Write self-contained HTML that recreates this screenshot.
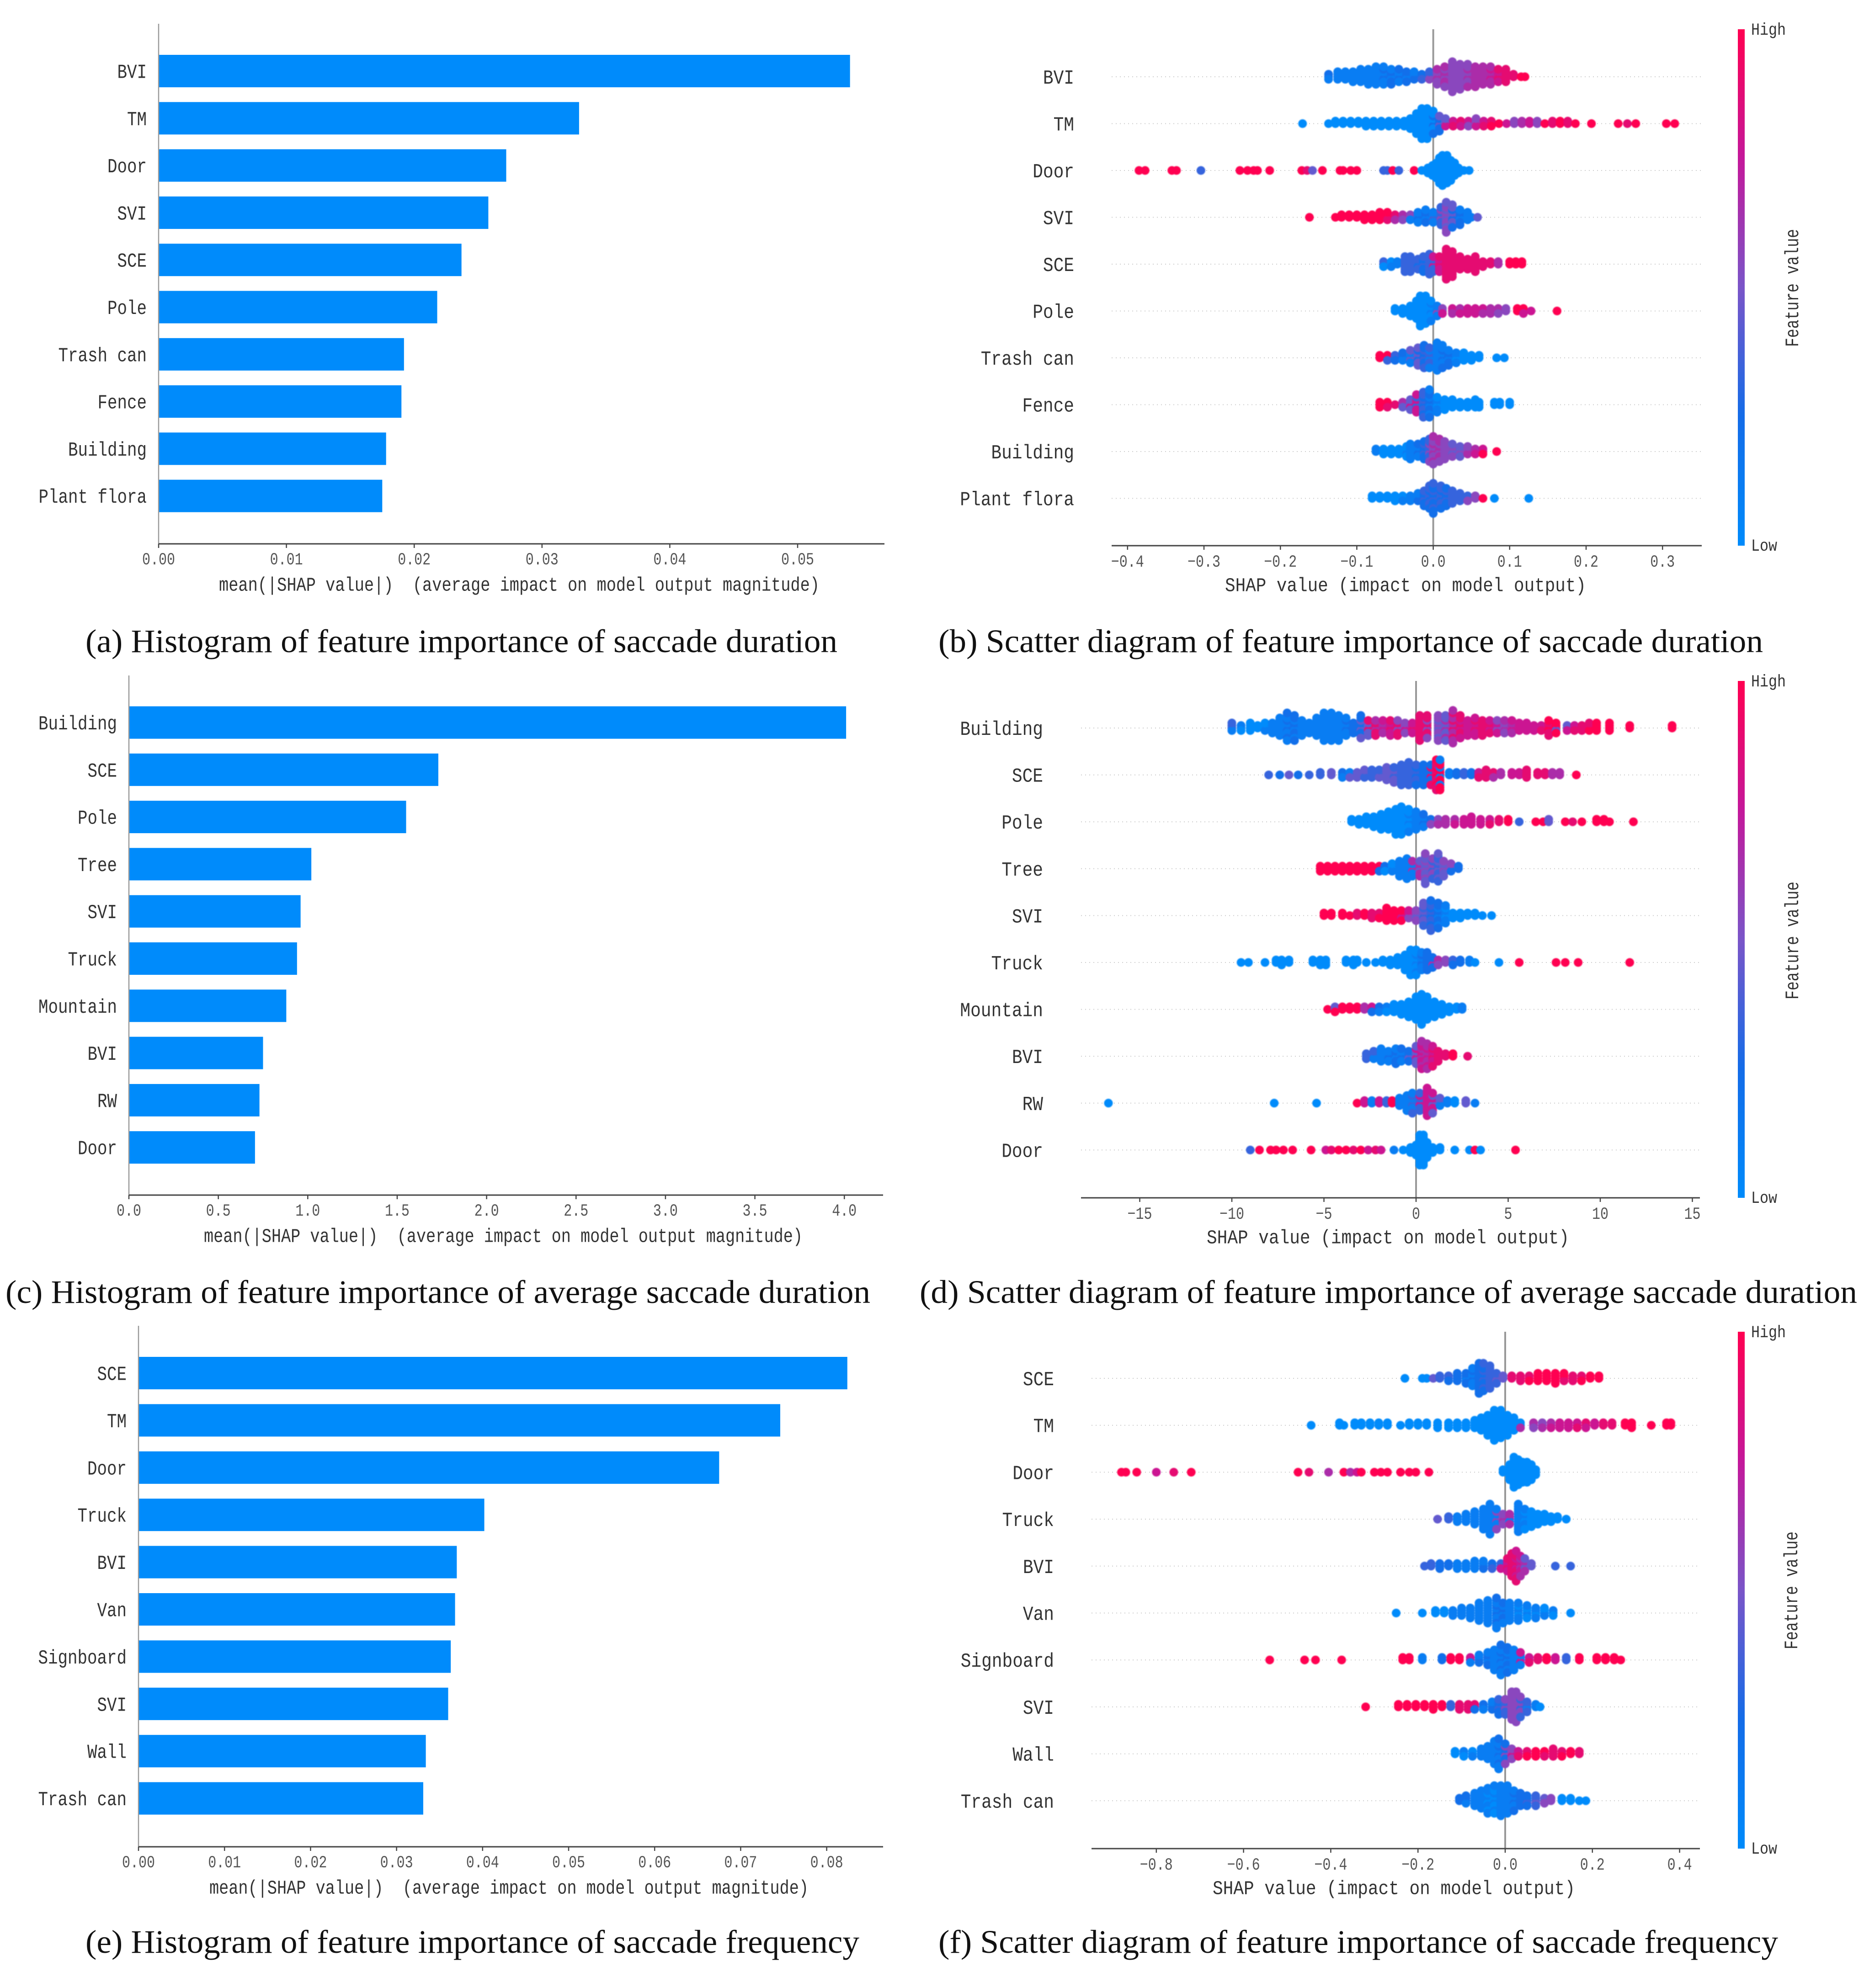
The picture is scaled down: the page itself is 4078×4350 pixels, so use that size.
<!DOCTYPE html>
<html lang="en">
<head>
<meta charset="utf-8">
<title>SHAP feature importance charts</title>
<style>
html,body{margin:0;padding:0;background:#fff;}
svg{display:block;}
text{white-space:pre;}
.cap{font-family:"Liberation Serif",serif;font-size:72px;fill:#111;}
</style>
</head>
<body>
<svg id="figure" xmlns="http://www.w3.org/2000/svg" width="4078" height="4350" viewBox="0 0 4078 4350">
<rect width="4078" height="4350" fill="#fff"/>
<text class="cap" x="187" y="1427" textLength="1645" lengthAdjust="spacingAndGlyphs">(a) Histogram of feature importance of saccade duration</text>
<text class="cap" x="2053" y="1427" textLength="1804" lengthAdjust="spacingAndGlyphs">(b) Scatter diagram of feature importance of saccade duration</text>
<text class="cap" x="12" y="2851" textLength="1892" lengthAdjust="spacingAndGlyphs">(c) Histogram of feature importance of average saccade duration</text>
<text class="cap" x="2012" y="2851" textLength="2051" lengthAdjust="spacingAndGlyphs">(d) Scatter diagram of feature importance of average saccade duration</text>
<text class="cap" x="187" y="4273" textLength="1693" lengthAdjust="spacingAndGlyphs">(e) Histogram of feature importance of saccade frequency</text>
<text class="cap" x="2053" y="4273" textLength="1837" lengthAdjust="spacingAndGlyphs">(f) Scatter diagram of feature importance of saccade frequency</text>
</svg>
<script>
// ---------- bar chart data ----------
const barACategories = ["BVI","TM","Door","SVI","SCE","Pole","Trash can","Fence","Building","Plant flora"];
const barAValues = [0.0541,0.0329,0.0272,0.0258,0.0237,0.0218,0.0192,0.0190,0.0178,0.0175];
const barATicks = [0,0.01,0.02,0.03,0.04,0.05];
const barATickLabels = ["0.00","0.01","0.02","0.03","0.04","0.05"];

const barCCategories = ["Building","SCE","Pole","Tree","SVI","Truck","Mountain","BVI","RW","Door"];
const barCValues = [4.01,1.73,1.55,1.02,0.96,0.94,0.88,0.75,0.73,0.705];
const barCTicks = [0,0.5,1,1.5,2,2.5,3,3.5,4];
const barCTickLabels = ["0.0","0.5","1.0","1.5","2.0","2.5","3.0","3.5","4.0"];

const barECategories = ["SCE","TM","Door","Truck","BVI","Van","Signboard","SVI","Wall","Trash can"];
const barEValues = [0.0824,0.0746,0.0675,0.0402,0.0370,0.0368,0.0363,0.0360,0.0334,0.0331];
const barETicks = [0,0.01,0.02,0.03,0.04,0.05,0.06,0.07,0.08];
const barETickLabels = ["0.00","0.01","0.02","0.03","0.04","0.05","0.06","0.07","0.08"];

// ---------- beeswarm data: each entry is [SHAP value, number of samples stacked, feature value decile 0-9] ----------
const swarmBCategories = ["BVI","TM","Door","SVI","SCE","Pole","Trash can","Fence","Building","Plant flora"];
const swarmBTicks = [-0.4,-0.3,-0.2,-0.1,0,0.1,0.2,0.3];
const swarmBTickLabels = ["\u22120.4","\u22120.3","\u22120.2","\u22120.1","0.0","0.1","0.2","0.3"];
const swarmBBVI = [[-.137,3,2],[-.125,4,1],[-.115,4,1],[-.105,5,1],[-.095,6,1],[-.085,7,1],[-.075,8,1],[-.065,8,1],[-.055,7,2],[-.045,6,1],[-.035,5,2],[-.025,4,1],[-.015,3,2],[-.005,4,3],[.005,7,5],[.015,9,6],[.025,13,5],[.035,11,5],[.045,10,5],[.055,9,6],[.065,8,6],[.075,8,6],[.085,6,7],[.095,6,8],[.105,2,8],[.115,1,9],[.12,1,9]];
const swarmBTM = [[-.171,1,0],[-.137,1,0],[-.128,2,0],[-.118,2,0],[-.108,2,0],[-.098,2,0],[-.088,3,0],[-.078,3,0],[-.068,3,0],[-.058,3,0],[-.048,3,0],[-.038,3,0],[-.03,5,0],[-.022,9,0],[-.015,13,0],[-.008,13,0],[0,10,0],[.008,7,2],[.016,4,4],[.026,3,7],[.036,3,8],[.046,3,7],[.056,4,5],[.066,3,7],[.076,3,8],[.086,1,9],[.096,1,7],[.106,2,5],[.116,2,6],[.126,2,7],[.136,2,5],[.146,1,9],[.156,2,8],[.166,2,9],[.176,2,8],[.186,1,9],[.207,1,9],[.242,1,9],[.254,1,8],[.265,1,9],[.305,1,9],[.316,1,9]];
const swarmBDoor = [[-.385,1,9],[-.377,1,9],[-.342,1,9],[-.336,1,9],[-.304,1,3],[-.253,1,9],[-.243,1,9],[-.235,1,9],[-.23,1,9],[-.214,1,9],[-.172,1,9],[-.165,1,8],[-.158,1,4],[-.145,1,9],[-.122,1,9],[-.118,1,9],[-.108,1,9],[-.1,1,9],[-.065,1,3],[-.06,1,3],[-.053,1,9],[-.045,1,3],[-.025,1,9],[-.015,1,0],[-.007,3,0],[-.001,5,0],[.004,7,0],[.008,11,0],[.012,13,0],[.018,12,0],[.023,9,0],[.028,6,0],[.033,3,0],[.04,1,0],[.047,1,0]];
const swarmBSVI = [[-.162,1,9],[-.128,1,9],[-.12,2,9],[-.11,2,9],[-.1,2,9],[-.09,3,9],[-.08,3,9],[-.07,4,9],[-.06,4,9],[-.05,3,8],[-.04,3,6],[-.03,3,5],[-.02,5,1],[-.01,6,2],[0,5,1],[.01,8,3],[.017,13,5],[.025,10,4],[.035,7,2],[.045,4,1],[.05,1,1],[.058,1,4]];
const swarmBSCE = [[-.065,3,3],[-.055,3,0],[-.047,2,1],[-.037,7,3],[-.03,7,3],[-.02,5,3],[-.013,7,2],[-.005,9,3],[0,7,3],[.008,7,7],[.017,13,8],[.025,11,8],[.035,6,8],[.045,5,8],[.055,7,8],[.065,3,8],[.075,2,8],[.085,2,6],[.1,2,9],[.108,2,9],[.116,2,9]];
const swarmBPole = [[-.05,2,0],[-.04,3,0],[-.03,5,0],[-.022,8,0],[-.017,13,0],[-.01,12,0],[-.003,9,0],[.005,5,1],[.012,3,5],[.025,3,7],[.035,3,6],[.045,3,7],[.055,3,7],[.065,3,7],[.075,3,6],[.085,3,6],[.095,2,5],[.11,2,9],[.118,3,9],[.128,1,7],[.162,1,9]];
const swarmBTrash = [[-.07,2,9],[-.06,3,9],[-.05,3,3],[-.04,4,2],[-.03,6,1],[-.02,8,4],[-.012,10,2],[-.005,9,3],[.005,12,1],[.012,10,1],[.02,7,2],[.03,5,1],[.04,4,0],[.05,3,0],[.06,2,0],[.083,1,0],[.093,1,0]];
const swarmBFence = [[-.07,3,9],[-.06,3,9],[-.05,1,8],[-.04,3,6],[-.03,5,4],[-.022,8,7],[-.013,11,3],[-.005,12,2],[.005,7,1],[.015,5,0],[.025,4,0],[.035,3,0],[.045,3,0],[.055,4,0],[.06,3,0],[.08,2,0],[.087,2,0],[.1,2,0]];
const swarmBBuilding = [[-.075,2,1],[-.065,3,0],[-.055,3,0],[-.045,3,0],[-.035,5,0],[-.03,7,1],[-.02,6,1],[-.012,8,2],[-.005,10,3],[0,12,5],[.008,10,6],[.015,8,5],[.025,6,5],[.035,5,4],[.045,4,5],[.055,3,6],[.065,3,7],[.083,1,9]];
const swarmBPlant = [[-.08,2,0],[-.07,2,0],[-.06,2,0],[-.05,3,0],[-.04,3,0],[-.03,3,1],[-.02,4,1],[-.012,7,2],[-.005,10,3],[0,13,2],[.01,10,3],[.017,8,2],[.025,6,3],[.035,4,3],[.045,3,3],[.055,2,5],[.065,1,9],[.08,1,0],[.125,1,0]];
const swarmBRows = [swarmBBVI,swarmBTM,swarmBDoor,swarmBSVI,swarmBSCE,swarmBPole,swarmBTrash,swarmBFence,swarmBBuilding,swarmBPlant];

const swarmDCategories = ["Building","SCE","Pole","Tree","SVI","Truck","Mountain","BVI","RW","Door"];
const swarmDTicks = [-15,-10,-5,0,5,10,15];
const swarmDTickLabels = ["\u221215","\u221210","\u22125","0","5","10","15"];
const swarmDBuilding = [[-10,4,3],[-9.5,3,1],[-9,4,0],[-8.6,2,0],[-8.2,4,0],[-7.8,5,1],[-7.4,8,1],[-7,12,1],[-6.6,11,2],[-6.2,7,1],[-5.8,5,1],[-5.4,8,1],[-5,12,1],[-4.6,12,1],[-4.2,11,1],[-3.8,8,1],[-3.4,5,2],[-3,10,2],[-2.6,7,4],[-2.2,7,8],[-1.8,6,6],[-1.4,7,7],[-1,7,8],[-.6,5,5],[-.2,5,7],[.2,11,8],[.6,10,8],[1.2,11,5],[1.6,11,4],[2,14,6],[2.4,10,8],[2.8,7,7],[3.2,8,7],[3.6,7,8],[4,6,8],[4.4,6,7],[4.8,6,5],[5.2,6,6],[5.6,4,7],[6,4,7],[6.4,3,7],[6.8,3,7],[7.2,7,8],[7.6,5,9],[8.2,3,4],[8.6,3,7],[9,3,8],[9.4,4,8],[9.8,4,9],[10.5,4,9],[11.6,2,9],[13.9,2,9]];
const swarmDSCE = [[-8,1,3],[-7.4,1,2],[-6.9,1,4],[-6.4,1,2],[-5.8,1,3],[-5.2,2,3],[-4.6,2,4],[-4,3,2],[-3.6,3,1],[-3.2,3,4],[-2.8,4,4],[-2.4,4,3],[-2,4,3],[-1.6,6,4],[-1.2,7,4],[-.8,9,3],[-.4,10,3],[0,9,3],[.4,9,2],[.8,9,2],[1.1,13,8],[1.3,13,9],[1.8,2,1],[2.2,2,2],[2.6,2,3],[3,2,2],[3.4,3,7],[3.8,4,8],[4.2,3,8],[4.6,2,6],[5.2,2,7],[5.6,2,7],[6,4,8],[6.6,2,8],[7,2,8],[7.4,2,6],[7.8,2,6],[8.7,1,9]];
const swarmDPole = [[-3.5,2,0],[-3.1,3,0],[-2.7,4,0],[-2.3,5,0],[-1.9,7,0],[-1.5,8,0],[-1.1,11,0],[-.8,12,0],[-.4,10,0],[0,8,1],[.4,6,1],[.8,3,2],[1.2,3,5],[1.6,3,6],[2.1,3,6],[2.6,3,7],[3,4,7],[3.5,3,7],[4,3,7],[4.5,2,8],[5,2,9],[5.6,1,3],[6.5,1,9],[6.9,1,9],[7.2,2,4],[8.1,1,9],[8.5,1,8],[9,1,9],[9.8,2,9],[10.2,2,9],[10.5,1,9],[11.8,1,9]];
const swarmDTree = [[-5.2,3,9],[-4.8,3,9],[-4.4,3,9],[-4,3,9],[-3.6,3,9],[-3.2,3,9],[-2.8,3,9],[-2.4,3,9],[-2,3,9],[-1.7,3,2],[-1.3,4,0],[-.9,7,1],[-.5,9,1],[-.2,7,1],[.2,7,6],[.5,13,4],[.9,9,5],[1.2,12,3],[1.5,7,4],[1.9,4,5],[2.3,2,2]];
const swarmDSVI = [[-5,2,9],[-4.6,2,9],[-4,2,9],[-3.6,1,9],[-3.2,2,8],[-2.8,2,9],[-2.4,3,8],[-2,3,8],[-1.6,6,9],[-1.2,5,9],[-.8,5,9],[-.4,4,7],[0,5,5],[.4,10,4],[.8,13,3],[1.2,11,2],[1.6,8,1],[2,3,0],[2.4,3,0],[2.8,2,0],[3.2,2,0],[3.6,1,0],[4.1,1,0]];
const swarmDTruck = [[-9.5,1,0],[-9.1,1,0],[-8.2,1,0],[-7.6,2,0],[-7.3,3,0],[-6.9,2,0],[-5.6,2,0],[-5.2,3,0],[-4.9,3,0],[-3.8,2,0],[-3.4,3,0],[-3.2,2,0],[-2.7,1,0],[-2.2,1,0],[-1.8,2,0],[-1.4,3,0],[-1,4,0],[-.6,7,0],[-.3,11,0],[0,11,0],[.3,8,1],[.6,8,2],[.9,5,2],[1.2,3,6],[1.6,2,5],[2,3,3],[2.4,2,2],[2.9,2,1],[3.2,1,0],[4.5,1,0],[5.6,1,9],[7.6,1,9],[8.1,1,9],[8.8,1,9],[11.6,1,9]];
const swarmDMountain = [[-4.8,1,9],[-4.4,3,4],[-4,2,9],[-3.6,2,9],[-3.2,2,9],[-2.8,2,6],[-2.4,3,7],[-2,3,2],[-1.6,3,1],[-1.2,4,0],[-.8,5,0],[-.4,7,0],[0,10,0],[.3,13,0],[.6,10,0],[1,7,0],[1.4,5,0],[1.8,3,0],[2.2,2,0],[2.5,2,1]];
const swarmDBVI = [[-2.7,3,3],[-2.3,4,3],[-1.9,6,1],[-1.5,5,1],[-1.1,7,2],[-.8,6,1],[-.4,5,2],[0,8,4],[.3,12,7],[.6,11,6],[.9,9,7],[1.2,5,8],[1.6,2,8],[2,2,9],[2.8,1,8]];
const swarmDRW = [[-16.7,1,0],[-7.7,1,0],[-5.4,1,0],[-3.2,1,9],[-2.8,2,7],[-2.4,2,1],[-2,2,7],[-1.6,2,3],[-1.3,2,9],[-.9,4,1],[-.5,7,1],[-.2,9,1],[.2,8,3],[.6,12,7],[.9,9,7],[1.3,4,4],[1.7,2,1],[2.1,2,0],[2.7,2,4],[3.2,1,1]];
const swarmDDoor = [[-9,1,3],[-8.5,1,9],[-7.9,1,9],[-7.6,1,9],[-7.2,1,9],[-6.7,1,9],[-5.7,1,9],[-4.9,1,7],[-4.6,1,8],[-4.2,1,9],[-3.8,1,9],[-3.4,1,8],[-3,1,9],[-2.6,1,7],[-2.2,1,8],[-1.9,1,7],[-1.2,1,1],[-.7,1,0],[-.3,3,0],[0,5,0],[.2,13,0],[.4,13,0],[.6,7,0],[.9,3,0],[1.3,2,0],[2.1,1,0],[2.9,1,0],[3.2,1,9],[3.5,1,0],[5.4,1,9]];
const swarmDRows = [swarmDBuilding,swarmDSCE,swarmDPole,swarmDTree,swarmDSVI,swarmDTruck,swarmDMountain,swarmDBVI,swarmDRW,swarmDDoor];

const swarmFCategories = ["SCE","TM","Door","Truck","BVI","Van","Signboard","SVI","Wall","Trash can"];
const swarmFTicks = [-0.8,-0.6,-0.4,-0.2,0,0.2,0.4];
const swarmFTickLabels = ["\u22120.8","\u22120.6","\u22120.4","\u22120.2","0.0","0.2","0.4"];
const swarmFSCE = [[-.23,1,0],[-.19,1,0],[-.18,1,0],[-.165,1,4],[-.15,2,3],[-.13,3,3],[-.11,4,2],[-.09,5,2],[-.075,8,1],[-.06,13,2],[-.05,12,2],[-.035,10,3],[-.02,5,3],[-.005,2,4],[.015,2,8],[.035,3,8],[.055,3,8],[.075,4,9],[.095,4,9],[.115,5,9],[.135,4,9],[.155,3,8],[.175,3,8],[.195,2,9],[.215,2,9]];
const swarmFTM = [[-.445,1,0],[-.38,2,0],[-.37,1,0],[-.345,2,0],[-.33,2,0],[-.31,2,0],[-.29,2,0],[-.27,2,0],[-.24,1,0],[-.22,2,0],[-.2,2,0],[-.18,2,0],[-.155,3,0],[-.13,3,0],[-.11,3,0],[-.09,3,0],[-.07,4,0],[-.055,6,0],[-.04,9,0],[-.025,13,0],[-.01,12,0],[.005,9,0],[.02,6,0],[.035,3,0],[.065,3,6],[.085,3,5],[.105,3,6],[.125,3,7],[.145,3,7],[.165,3,7],[.185,3,8],[.205,2,7],[.225,2,8],[.245,2,8],[.275,2,9],[.29,3,9],[.335,1,9],[.37,2,9],[.38,2,9]];
const swarmFDoor = [[-.88,1,9],[-.87,1,9],[-.845,1,9],[-.8,1,7],[-.76,1,8],[-.72,1,9],[-.475,1,9],[-.45,1,8],[-.405,1,6],[-.37,1,9],[-.355,1,6],[-.34,1,7],[-.33,1,9],[-.3,1,9],[-.285,1,9],[-.27,1,9],[-.24,1,9],[-.22,1,9],[-.205,1,9],[-.175,1,9],[-.005,2,0],[.01,7,0],[.02,13,0],[.03,11,0],[.04,9,0],[.05,9,0],[.06,7,0],[.07,3,0]];
const swarmFTruck = [[-.155,1,4],[-.13,2,3],[-.11,3,1],[-.09,4,1],[-.07,6,1],[-.05,9,1],[-.035,13,1],[-.02,9,1],[-.005,5,5],[.01,5,6],[.03,12,1],[.045,9,1],[.06,7,0],[.075,5,0],[.09,4,0],[.105,3,0],[.12,2,0],[.14,1,0]];
const swarmFBVI = [[-.185,1,3],[-.17,2,3],[-.15,3,2],[-.13,2,2],[-.11,3,1],[-.09,3,1],[-.07,4,1],[-.05,4,1],[-.03,3,2],[-.01,3,3],[.005,6,7],[.015,10,8],[.025,13,8],[.035,9,7],[.045,6,6],[.06,2,4],[.115,1,3],[.15,1,3]];
const swarmFVan = [[-.25,1,0],[-.19,1,0],[-.16,2,0],[-.14,2,0],[-.12,3,1],[-.1,4,1],[-.08,5,1],[-.06,8,1],[-.04,10,1],[-.02,13,1],[-.005,9,2],[.01,8,1],[.03,8,1],[.05,6,0],[.07,5,1],[.09,4,0],[.11,3,1],[.15,1,0]];
const swarmFSignboard = [[-.54,1,9],[-.46,1,9],[-.435,1,9],[-.375,1,9],[-.235,2,9],[-.22,2,9],[-.19,2,1],[-.145,2,2],[-.125,2,9],[-.105,2,9],[-.08,3,7],[-.06,4,1],[-.04,6,2],[-.025,9,1],[-.01,13,1],[.005,11,2],[.02,9,1],[.035,6,1],[.055,3,7],[.075,2,8],[.095,2,9],[.115,2,7],[.14,2,3],[.17,2,9],[.21,2,9],[.23,2,9],[.25,2,9],[.265,1,9]];
const swarmFSVI = [[-.32,1,9],[-.245,2,9],[-.225,2,9],[-.205,2,9],[-.185,2,9],[-.165,3,9],[-.145,2,9],[-.125,2,3],[-.105,3,8],[-.085,3,8],[-.07,3,8],[-.05,3,2],[-.03,4,1],[-.015,7,2],[0,7,3],[.015,12,5],[.025,13,5],[.035,9,5],[.05,5,3],[.07,2,1],[.08,1,0]];
const swarmFWall = [[-.115,2,0],[-.095,3,1],[-.075,3,0],[-.055,4,1],[-.04,6,1],[-.025,10,1],[-.015,13,1],[0,9,2],[.015,5,5],[.03,3,7],[.05,3,8],[.07,3,9],[.09,3,9],[.11,4,8],[.13,3,8],[.15,2,9],[.17,2,8]];
const swarmFTrash = [[-.105,2,2],[-.09,4,2],[-.07,6,1],[-.055,8,1],[-.04,11,1],[-.025,12,0],[-.01,13,1],[.005,12,1],[.02,9,1],[.035,6,2],[.05,5,2],[.07,5,3],[.09,3,4],[.105,2,5],[.13,2,0],[.15,2,0],[.17,1,0],[.185,1,0]];
const swarmFRows = [swarmFSCE,swarmFTM,swarmFDoor,swarmFTruck,swarmFBVI,swarmFVan,swarmFSignboard,swarmFSVI,swarmFWall,swarmFTrash];

const meanAxisTitle = "mean(|SHAP value|)  (average impact on model output magnitude)";
const shapAxisTitle = "SHAP value (impact on model output)";

// ---------- drawing ----------
const NS = "http://www.w3.org/2000/svg";
const svg = document.getElementById("figure");
const MONO = '"Liberation Mono","DejaVu Sans Mono",monospace';
const colorStops = [[0,139,251],[20,108,232],[122,85,200],[196,24,154],[255,0,81]];

function featureColor(decile){
  const t = Math.max(0,Math.min(1,decile/9))*(colorStops.length-1);
  const i = Math.min(colorStops.length-2,Math.floor(t));
  const f = t-i;
  const c = colorStops[i].map((v,k)=>Math.round(v+(colorStops[i+1][k]-v)*f));
  return "rgb("+c.join(",")+")";
}
function shape(parent,tag,attrs){
  const el = document.createElementNS(NS,tag);
  for(const k in attrs){el.setAttribute(k,attrs[k]);}
  parent.appendChild(el);
  return el;
}
function label(parent,str,x,y,size,anchor,width,fill){
  const el = shape(parent,"text",{x:x,y:y,"font-size":size,"text-anchor":anchor,"dominant-baseline":"central",fill:fill,"font-family":MONO,textLength:width,lengthAdjust:"spacingAndGlyphs"});
  el.textContent = str;
  return el;
}

function drawBarChart(cfg,categories,values,ticks,tickLabels){
  const g = shape(svg,"g",{});
  
  
  const xScale = v => cfg.x0 + v*cfg.pxPerUnit;
  const yScale = i => cfg.y0 + i*cfg.step;
  categories.forEach((cat,i)=>{
    const bar = shape(g,"rect",{x:xScale(0),y:yScale(i)-35.5,width:xScale(values[i])-xScale(0),height:71,fill:"#008bfb"});
    
    
    const t = label(g,cat,cfg.labelRight,yScale(i)+4,44,"end",cat.length*21.5,"#333");
    
    
  });
  const spine = shape(g,"line",{x1:cfg.x0,x2:cfg.x0,y1:cfg.top,y2:cfg.bottom,stroke:"#999",'stroke-width':2.5});
  
  
  const axis = shape(g,"line",{x1:cfg.x0,x2:cfg.right,y1:cfg.bottom,y2:cfg.bottom,stroke:"#444",'stroke-width':3});
  
  
  ticks.forEach((v,i)=>{
    const tick = shape(g,"line",{x1:xScale(v),x2:xScale(v),y1:cfg.bottom,y2:cfg.bottom+9,stroke:"#444",'stroke-width':2.5});
    
    
    const t = label(g,tickLabels[i],xScale(v),cfg.bottom+36,37,"middle",tickLabels[i].length*18,"#555");
    
    
  });
  const title = label(g,meanAxisTitle,cfg.titleX,cfg.bottom+91,43,"start",cfg.titleW,"#333");
  
  
}

function drawSwarmChart(cfg,categories,rows,ticks,tickLabels){
  const g = shape(svg,"g",{});
  
  
  const xScale = v => cfg.zero + v*cfg.pxPerUnit;
  const yScale = i => cfg.y0 + i*cfg.step;
  categories.forEach((cat,i)=>{
    const guide = shape(g,"line",{x1:cfg.left,x2:cfg.right,y1:yScale(i),y2:yScale(i),stroke:"#ccc",'stroke-width':2,'stroke-dasharray':"2 7"});
    
    
  });
  const zeroLine = shape(g,"line",{x1:xScale(0),x2:xScale(0),y1:cfg.top,y2:cfg.bottom,stroke:"#999",'stroke-width':4});
  
  
  const dotLayer = shape(g,"g",{style:"filter:blur(1px)"});
  
  
  categories.forEach((cat,i)=>{
    const t = label(g,cat,cfg.labelRight,yScale(i)+4,44,"end",cat.length*22.7,"#333");
    
    
    const row = rows[i];
    row.forEach((col,c)=>{
      const next = row[Math.min(row.length-1,c+1)];
      for(let k=0;k<col[1];k++){
        const side = k%2===1?-1:1;
        const offset = Math.ceil(k/2)*side*5.5;
        const decile = k%3===2?next[2]:col[2];
        const dot = shape(dotLayer,"circle",{cx:xScale(col[0]),cy:yScale(i)+offset,r:9.5,fill:featureColor(decile)});
        
        
      }
    });
  });
  const axis = shape(g,"line",{x1:cfg.left,x2:cfg.right,y1:cfg.bottom,y2:cfg.bottom,stroke:"#444",'stroke-width':3});
  
  
  ticks.forEach((v,i)=>{
    const tick = shape(g,"line",{x1:xScale(v),x2:xScale(v),y1:cfg.bottom,y2:cfg.bottom+9,stroke:"#444",'stroke-width':2.5});
    
    
    const t = label(g,tickLabels[i],xScale(v),cfg.bottom+37,37,"middle",tickLabels[i].length*18,"#555");
    
    
  });
  const title = label(g,shapAxisTitle,cfg.titleX,cfg.bottom+88,43,"start",cfg.titleW,"#333");
  
  
  // colour bar
  const gradId = cfg.name+"-gradient";
  const defs = shape(g,"defs",{});
  const grad = shape(defs,"linearGradient",{id:gradId,x1:0,x2:0,y1:1,y2:0});
  colorStops.forEach((c,i)=>{
    shape(grad,"stop",{offset:i/(colorStops.length-1),'stop-color':"rgb("+c.join(",")+")"});
  });
  const bar = shape(g,"rect",{x:3802,y:cfg.top,width:15,height:cfg.bottom-cfg.top,fill:"url(#"+gradId+")"});
  
  
  const hi = label(g,"High",3831,cfg.top+3,37,"start",76,"#333");
  
  
  const lo = label(g,"Low",3831,cfg.bottom+2,37,"start",57,"#333");
  
  
  const fv = label(g,"Feature value",0,0,42,"middle",258,"#333");
  fv.setAttribute('transform',"translate("+cfg.fvX+","+cfg.fvY+") rotate(-90)");
  
  
}

drawBarChart({name:"bar-chart-a",x0:347,pxPerUnit:27960,y0:155.5,step:103.3,top:52,bottom:1190,right:1935,labelRight:321,titleX:479,titleW:1314},barACategories,barAValues,barATicks,barATickLabels);
drawBarChart({name:"bar-chart-c",x0:282,pxPerUnit:391.3,y0:1581,step:103.3,top:1478,bottom:2615,right:1932,labelRight:256,titleX:446,titleW:1310},barCCategories,barCValues,barCTicks,barCTickLabels);
drawBarChart({name:"bar-chart-e",x0:303,pxPerUnit:18820,y0:3004.5,step:103.4,top:2901,bottom:4041,right:1932,labelRight:277,titleX:458,titleW:1311},barECategories,barEValues,barETicks,barETickLabels);

drawSwarmChart({name:"swarm-chart-b",zero:3135.6,pxPerUnit:1672,y0:168,step:102.5,top:64,bottom:1194,left:2432,right:3723,labelRight:2350,titleX:2680,titleW:790,fvX:3923,fvY:630},swarmBCategories,swarmBRows,swarmBTicks,swarmBTickLabels);
drawSwarmChart({name:"swarm-chart-d",zero:3098,pxPerUnit:40.3,y0:1593,step:102.6,top:1490,bottom:2621,left:2365,right:3719,labelRight:2282,titleX:2640,titleW:793,fvX:3923,fvY:2058},swarmDCategories,swarmDRows,swarmDTicks,swarmDTickLabels);
drawSwarmChart({name:"swarm-chart-f",zero:3293,pxPerUnit:954,y0:3016,step:102.7,top:2914,bottom:4045,left:2388,right:3719,labelRight:2306,titleX:2653,titleW:793,fvX:3921,fvY:3480},swarmFCategories,swarmFRows,swarmFTicks,swarmFTickLabels);
</script>
</body>
</html>
